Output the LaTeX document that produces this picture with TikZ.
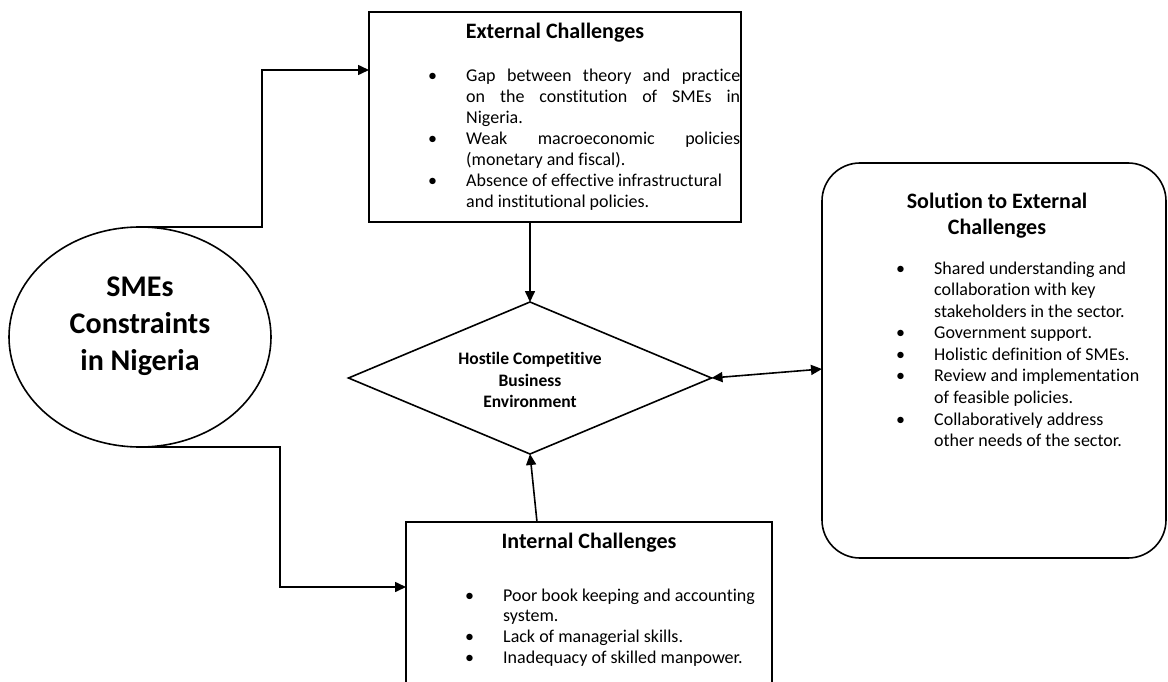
\documentclass[tikz,border=0pt]{standalone}
\usepackage{fontspec}
\setmainfont{Carlito}[Ligatures=NoCommon]
\usetikzlibrary{shapes.geometric,arrows.meta}
\begin{document}
\begin{tikzpicture}[x=1pt,y=-1pt,
  box/.style={draw,line width=1.6pt,inner sep=0pt,outer sep=0pt},
  arr/.style={line width=1.6pt,-{Triangle[length=11pt,width=10pt]}},
  dbl/.style={line width=1.6pt,{Triangle[length=11pt,width=10pt]}-{Triangle[length=11pt,width=10pt]}},
  head/.style={font=\fontsize{22}{26}\selectfont\bfseries,inner sep=0pt,anchor=base},
  list/.style={inner sep=0pt,anchor=base west}
]
\useasboundingbox (0,0) rectangle (1168,682);
\clip (0,0) rectangle (1168,682);
\newcommand{\bl}{\makebox[38pt][l]{\textbullet}}

% boxes
\node[box,minimum width=372pt,minimum height=210pt] (ext) at (555,117) {};
\node[box,minimum width=366pt,minimum height=190pt] (int) at (589,617) {};
\node[box,rounded corners=38pt,minimum width=344pt,minimum height=395pt] (sol) at (994,360.5) {};
\node[box,ellipse,minimum width=262pt,minimum height=220pt] (ell) at (140,337) {};
\node[box,diamond,minimum width=363pt,minimum height=152pt] (dia) at (530,378) {};

% texts
\node[head] (extt) at (555,39) {External Challenges};
\node[list,font=\fontsize{18}{21}\selectfont] (extl) at (428,82) {%
\begin{tabular}[t]{@{}l@{}l@{}}
\bl & \makebox[274pt][s]{Gap between theory and practice}\\
 & \makebox[274pt][s]{on the constitution of SMEs in}\\
 & Nigeria.\\
\bl & \makebox[274pt][s]{Weak macroeconomic policies}\\
 & (monetary and fiscal).\\
\bl & Absence of effective infrastructural\\
 & and institutional policies.
\end{tabular}};

\node[head] (intt) at (589,548) {Internal Challenges};
\node[list,font=\fontsize{18}{20.8}\selectfont] (intl) at (465,601) {%
\begin{tabular}[t]{@{}l@{}l@{}}
\bl & Poor book keeping and accounting\\
 & system.\\
\bl & Lack of managerial skills.\\
\bl & Inadequacy of skilled manpower.
\end{tabular}};

\node[head] (solt) at (997,208) {\begin{tabular}[t]{@{}c@{}}Solution to External\\Challenges\end{tabular}};
\node[list,font=\fontsize{18}{21.6}\selectfont] (soll) at (896,274) {%
\begin{tabular}[t]{@{}l@{}l@{}}
\bl & Shared understanding and\\
 & collaboration with key\\
 & stakeholders in the sector.\\
\bl & Government support.\\
\bl & Holistic definition of SMEs.\\
\bl & Review and implementation\\
 & of feasible policies.\\
\bl & Collaboratively address\\
 & other needs of the sector.
\end{tabular}};

\node[font=\fontsize{30}{37}\selectfont\bfseries,align=center,inner sep=0pt] (ellt) at (140,326) {SMEs\\Constraints\\in Nigeria};
\node[font=\fontsize{17.5}{21.5}\selectfont\bfseries,align=center,inner sep=0pt] (diat) at (530,380) {Hostile Competitive\\Business\\Environment};

% connectors
\coordinate (c1) at (262,70);
\coordinate (c2) at (280,587);
\coordinate (ib) at (537,522);
\coordinate (sl) at (822,369);
\draw[arr] (ell.north) -| (c1) -- (ext.west |- c1);
\draw[arr] (ell.south) -| (c2) -- (int.west |- c2);
\draw[arr] (dia.north |- ext.south) -- (dia.north);
\draw[arr] (ib) -- (dia.south);
\draw[dbl] (dia.east) -- (sl);
\end{tikzpicture}
\end{document}
